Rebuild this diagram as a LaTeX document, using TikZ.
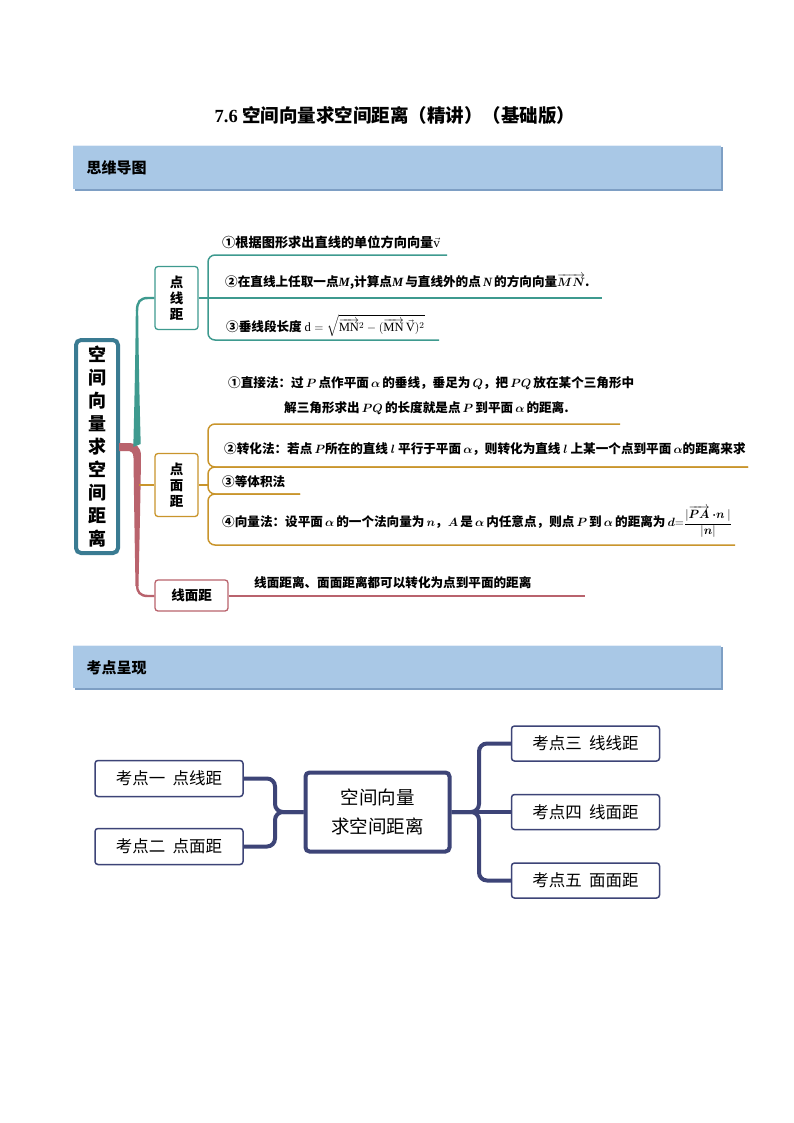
\documentclass[tikz,border=0pt]{standalone}
\usepackage{fontspec}
\usepackage{amsmath}
\setmainfont{Liberation Serif}
\newfontfamily\cjk{Noto Sans CJK SC}
\newfontfamily\tnr{Liberation Serif}
\newcommand{\tb}[1]{{\tnr\bfseries\itshape #1}}
\definecolor{tealc}{HTML}{3E9A8F}
\definecolor{goldc}{HTML}{C9952C}
\definecolor{pinkc}{HTML}{B9636D}
\definecolor{rootc}{HTML}{3A7B92}
\definecolor{navyc}{HTML}{3D4477}
\definecolor{bannerc}{HTML}{A9C8E6}
\definecolor{shadowc}{HTML}{7E9FC4}
\begin{document}
\begin{tikzpicture}[x=1pt,y=-1pt,
  banner/.style={fill=bannerc, draw=none},
  bshadow/.style={fill=shadowc, draw=none},
  bantext/.style={anchor=west, font=\cjk\bfseries\fontsize{15}{18}\selectfont},
  mmtext/.style={anchor=west, inner sep=0pt, font=\cjk\bfseries\fontsize{12.6}{15}\selectfont},
  mmtextb/.style={mmtext, font=\cjk\bfseries\fontsize{13.2}{15}\selectfont},
  rootbox/.style={draw=rootc, line width=4, rounded corners=5, fill=white, align=center, inner sep=0pt,
     font=\cjk\bfseries\fontsize{18}{22.9}\selectfont},
  tbox/.style={draw=tealc, line width=1.3, rounded corners=3, fill=white, align=center, inner sep=0pt,
     font=\cjk\bfseries\fontsize{13.5}{16}\selectfont},
  gbox/.style={tbox, draw=goldc},
  pbox/.style={tbox, draw=pinkc},
  tline/.style={tealc, line width=1.5},
  gline/.style={goldc, line width=1.5},
  pline/.style={pinkc, line width=1.5},
  kbox/.style={draw=navyc, line width=1.5, rounded corners=3, fill=white, inner sep=0pt,
     minimum width=148, font=\cjk\fontsize{16.5}{18}\selectfont},
  kroot/.style={draw=navyc, line width=4, rounded corners=4, fill=white, inner sep=0pt, align=center,
     minimum width=144, minimum height=79, font=\cjk\fontsize{18.5}{29}\selectfont},
  kline/.style={navyc, line width=4, rounded corners=8}
]
\useasboundingbox (0,0) rectangle (794,1123);
\fill[white] (0,0) rectangle (794,1123);

% title
\node (title) at (395,115) {\fontsize{18.5}{20}\selectfont\bfseries 7.6 {\cjk 空间向量求空间距离（精讲）（基础版）}};

% banner 1
\fill[bshadow] (75,147) rectangle (723,191);
\fill[banner] (73,145) rectangle (721,189);
\draw[white!70!bannerc, line width=1] (73,145.5) -- (721,145.5);
\node[bantext] (ban1) at (83,168) {思维导图};

% banner 2
\fill[bshadow] (75,647) rectangle (723,690);
\fill[banner] (73,645) rectangle (721,688);
\draw[white!70!bannerc, line width=1] (73,645.5) -- (721,645.5);
\node[bantext] (ban2) at (83,668) {考点呈现};

% ---------- mind map 1 ----------
\node[rootbox, minimum width=42, minimum height=213] (root) at (97,446.5)
  {空\\间\\向\\量\\求\\空\\间\\距\\离};
\node[tbox, minimum width=43, minimum height=63] (dxj) at (176.5,298) {点\\线\\距};
\node[gbox, minimum width=43, minimum height=63] (dmj) at (176.5,485) {点\\面\\距};
\node[pbox, minimum width=73, minimum height=31] (xmj) at (191.5,595.5) {线面距};

% branches
\fill[pinkc] (119,443) -- (128,443) .. controls (136,443) and (141,447) .. (141,456)
  .. controls (140.5,500) and (139,560) .. (138.5,586) -- (135.5,586)
  .. controls (135,560) and (134,500) .. (133.5,458)
  .. controls (133.5,452) and (131,451) .. (127,451) -- (119,451) -- cycle;
\fill[tealc] (133.3,447) .. controls (134.5,400) and (135.5,350) .. (135.8,310)
  -- (138.2,310) .. controls (138.5,350) and (139.5,400) .. (140.7,444) -- cycle;
\draw[tealc, line width=2.4] (137,311) .. controls (137,302) and (140,298) .. (148,298) -- (dxj.west);
\draw[pinkc, line width=2.4] (137,585) .. controls (137,592) and (140,596) .. (148,596) -- (xmj.west |- 0,596);
\draw[goldc, line width=2.2] (139,485) -- (dmj.west);

% 点线距 children
\draw[tline, rounded corners=7] (447,255) -- (208,255) -- (208,340) -- (439,340);
\draw[tline] (dxj.east) -- (602,298);
\node[mmtextb] (dx1) at (222,242) {①根据图形求出直线的单位方向向量$\vec{\mathrm{v}}$};
\node[mmtext] (dx2) at (225,282) {②在直线上任取一点\tb{M},计算点\tb{M}\,与直线外的点\,\tb{N}\,的方向向量$\overrightarrow{\boldsymbol{MN}}$.};
\node[mmtext] (dx3) at (226,326) {③垂线段长度 $\mathrm{d}=\sqrt{\overrightarrow{\mathrm{MN}}^{2}-(\overrightarrow{\mathrm{MN}}\,\vec{\mathrm{V}})^{2}}$};

% 点面距 children
\draw[gline, rounded corners=7] (620,424) -- (208,424) -- (208,467) -- (748,467);
\draw[gline, rounded corners=7] (748,467) -- (208,467) -- (208,494) -- (300,494);
\draw[gline, rounded corners=7] (300,494) -- (208,494) -- (208,545) -- (735,545);
\draw[gline] (dmj.east) -- (208,485);
\node[mmtext] (dm1a) at (228,383) {①直接法：过\,$\boldsymbol{P}$\,点作平面\,$\boldsymbol{\alpha}$\,的垂线，垂足为\,$\boldsymbol{Q}$，把\,$\boldsymbol{PQ}$\,放在某个三角形中};
\node[mmtext] (dm1b) at (284,408) {解三角形求出\,$\boldsymbol{PQ}$\,的长度就是点\,$\boldsymbol{P}$\,到平面\,$\boldsymbol{\alpha}$\,的距离.};
\node[mmtext] (dm2) at (224,449) {②转化法：若点\,$\boldsymbol{P}$所在的直线 $\boldsymbol{l}$ 平行于平面\,$\boldsymbol{\alpha}$，则转化为直线 $\boldsymbol{l}$ 上某一个点到平面\,$\boldsymbol{\alpha}$的距离来求};
\node[mmtext] (dm3) at (222,482) {③等体积法};
\node[mmtext] (dm4) at (222,522) {④向量法：设平面\,$\boldsymbol{\alpha}$\,的一个法向量为\,$\boldsymbol{n}$，$\boldsymbol{A}$\,是\,$\boldsymbol{\alpha}$\,内任意点，则点\,$\boldsymbol{P}$\,到\,$\boldsymbol{\alpha}$\,的距离为\,$\boldsymbol{d}{=}\dfrac{|\overrightarrow{\boldsymbol{PA}}\boldsymbol{\cdot n}|}{|\boldsymbol{n}|}$};

% 线面距 child
\draw[pline] (xmj.east |- 0,596) -- (585,596);
\node[mmtext] (xm1) at (254,583) {线面距离、面面距离都可以转化为点到平面的距离};

% ---------- mind map 2 ----------
\node[kroot] (r2) at (377.5,812) {空间向量\\求空间距离};
\node[kbox, minimum height=36] (k1) at (169,778.5) {考点一\ \ 点线距};
\node[kbox, minimum height=36] (k2) at (169,846.5) {考点二\ \ 点面距};
\node[kbox, minimum height=35] (k3) at (585.5,743.5) {考点三\ \ 线线距};
\node[kbox, minimum height=35] (k4) at (585.5,812) {考点四\ \ 线面距};
\node[kbox, minimum height=35] (k5) at (585.5,880.5) {考点五\ \ 面面距};
\coordinate (jl) at (275,812);
\coordinate (jr) at (479,812);
\draw[kline] (k1.east) -| (jl) -- (r2.west);
\draw[kline] (k2.east) -| (jl) -- (r2.west);
\draw[kline] (r2.east) -- (jr) |- (k3.west);
\draw[kline] (r2.east) -- (jr) |- (k5.west);
\draw[kline] (r2.east) -- (k4.west);
\end{tikzpicture}
\end{document}
